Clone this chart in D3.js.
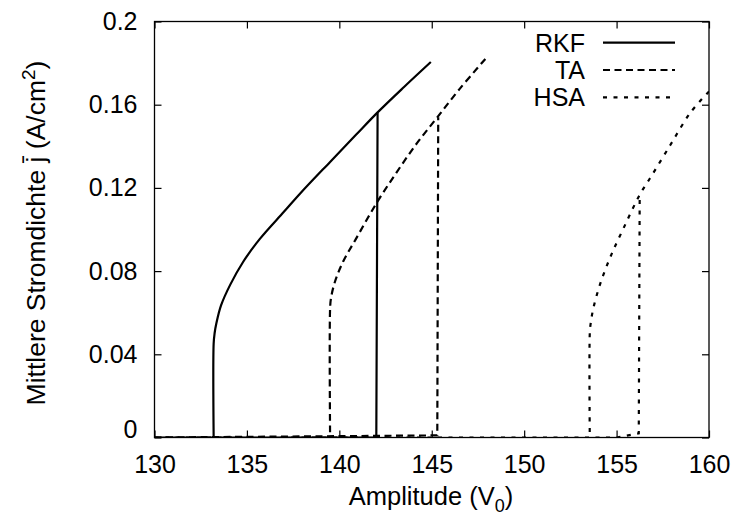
<!DOCTYPE html>
<html>
<head>
<meta charset="utf-8">
<script src="https://cdn.jsdelivr.net/npm/d3@7"></script>
<style>
  body { margin: 0; background: #fff; }
  svg text { font-family: "Liberation Sans", Arial, sans-serif; fill: #000; }
</style>
</head>
<body>
<div id="chart"></div>
<script>
const xTicks = [130, 135, 140, 145, 150, 155, 160];
const yTicks = [0, 0.04, 0.08, 0.12, 0.16, 0.2];
const yTickLabels = ["0", "0.04", "0.08", "0.12", "0.16", "0.2"];
const seriesNames = ["RKF", "TA", "HSA"];

// increasing amplitude: zero branch, then jump up onto the upper branch
const rkfUpX = [130, 142.0, 142.07];
const rkfUpY = [0, 0, 0.1563];
// upper branch, followed back down to the drop
const rkfDownX = [144.95, 143.5, 142.07, 140.9, 139.5, 137.87, 137.0, 135.7, 134.8, 134.1, 133.6, 133.35, 133.25, 133.2, 133.2];
const rkfDownY = [0.1805, 0.1685, 0.1563, 0.1455, 0.1325, 0.1172, 0.1085, 0.0955, 0.0845, 0.0735, 0.0635, 0.055, 0.05, 0.045, 0];

const taUpX = [130, 145.3, 145.35];
const taUpY = [0, 0.001, 0.154];
const taDownX = [147.9, 146.5, 145.35, 144.2, 143.1, 142.0, 140.9, 140.2, 139.75, 139.55, 139.5, 139.5];
const taDownY = [0.182, 0.1675, 0.1545, 0.1415, 0.1275, 0.1125, 0.0955, 0.0845, 0.0745, 0.067, 0.062, 0];

const hsaUpX = [130, 155.0, 156.2, 156.25];
const hsaUpY = [0, 0, 0.002, 0.116];
const hsaDownX = [160, 158.98, 157.9, 156.8, 156.27, 155.37, 154.65, 154.1, 153.74, 153.6, 153.55, 153.55];
const hsaDownY = [0.1664, 0.156, 0.1405, 0.1245, 0.117, 0.1005, 0.0865, 0.0735, 0.062, 0.055, 0.05, 0];

const width = 738, height = 518;
const plotLeft = 154.5, plotRight = 709, plotTop = 21.5, plotBottom = 437.5;

const svg = d3.select("#chart").append("svg")
    .attr("width", width)
    .attr("height", height);

const x = d3.scaleLinear().domain([130, 160]).range([plotLeft, plotRight]);
const y = d3.scaleLinear().domain([0, 0.2]).range([plotBottom, plotTop]);

svg.append("clipPath").attr("id", "plot")
    .append("rect")
    .attr("x", plotLeft).attr("y", plotTop)
    .attr("width", plotRight - plotLeft).attr("height", plotBottom - plotTop);

// axes with inward ticks on all four sides
const tickLen = 7;
svg.append("g")
    .attr("transform", `translate(0,${plotBottom})`)
    .call(d3.axisBottom(x).tickValues(xTicks).tickSize(-tickLen).tickFormat(d3.format("d")))
    .call(g => g.select(".domain").remove())
    .call(g => g.selectAll("text").attr("font-size", 25).attr("dy", "0.71em").attr("y", 17.5));

svg.append("g")
    .attr("transform", `translate(0,${plotTop})`)
    .call(d3.axisTop(x).tickValues(xTicks).tickSize(-tickLen).tickFormat(""))
    .call(g => g.select(".domain").remove());

svg.append("g")
    .attr("transform", `translate(${plotLeft},0)`)
    .call(d3.axisLeft(y).tickValues(yTicks).tickSize(-tickLen)
        .tickFormat((d, i) => yTickLabels[i]))
    .call(g => g.select(".domain").remove())
    .call(g => g.selectAll("text").attr("font-size", 25).attr("x", -17))
    .call(g => g.selectAll(".tick").filter(d => d === 0).select("text").attr("dy", "0.0em"));

svg.append("g")
    .attr("transform", `translate(${plotRight},0)`)
    .call(d3.axisRight(y).tickValues(yTicks).tickSize(-tickLen).tickFormat(""))
    .call(g => g.select(".domain").remove());

svg.selectAll(".tick line").attr("stroke", "#000").attr("stroke-width", 1.2);

svg.append("rect")
    .attr("x", plotLeft).attr("y", plotTop)
    .attr("width", plotRight - plotLeft).attr("height", plotBottom - plotTop)
    .attr("fill", "none")
    .attr("stroke", "#000")
    .attr("stroke-width", 1.3);

// axis labels
const xl = svg.append("text")
    .attr("x", 431).attr("y", 505)
    .attr("text-anchor", "middle")
    .attr("font-size", 25.5);
xl.append("tspan").text("Amplitude (V");
xl.append("tspan").attr("font-size", 18).attr("dy", 7).text("0");
xl.append("tspan").attr("dy", -7).text(")");

const yl = svg.append("text")
    .attr("transform", "translate(45,233) rotate(-90)")
    .attr("text-anchor", "middle")
    .attr("font-size", 26.5);
yl.append("tspan").text("Mittlere Stromdichte j\u0304 (A/cm");
yl.append("tspan").attr("font-size", 19).attr("dy", -10).text("2");
yl.append("tspan").attr("dy", 10).text(")");

// curves
const series = [
    { name: "RKF", parts: [[rkfUpX, rkfUpY], [rkfDownX, rkfDownY]], dash: null },
    { name: "TA", parts: [[taUpX, taUpY], [taDownX, taDownY]], dash: "7,4.5" },
    { name: "HSA", parts: [[hsaUpX, hsaUpY], [hsaDownX, hsaDownY]], dash: "4,6.5" }
];

const line = d3.line().x(d => x(d[0])).y(d => y(d[1]));
const smooth = d3.line().x(d => x(d[0])).y(d => y(d[1])).curve(d3.curveCatmullRom.alpha(0.5));
const plot = svg.append("g").attr("clip-path", "url(#plot)");

series.forEach(s => {
    s.parts.forEach((p, k) => {
        plot.append("path")
            .datum(d3.zip(p[0], p[1]))
            .attr("d", k === 0 ? line : smooth)
            .attr("fill", "none")
            .attr("stroke", "#000")
            .attr("stroke-width", 2.2)
            .attr("stroke-dasharray", s.dash);
    });
});

// legend
const legend = svg.append("g");
series.forEach((s, i) => {
    const ly = 42.7 + i * 27.3;
    legend.append("text")
        .attr("x", 585).attr("y", ly + 9)
        .attr("text-anchor", "end")
        .attr("font-size", 25)
        .text(seriesNames[i]);
    legend.append("line")
        .attr("x1", 603).attr("x2", 675)
        .attr("y1", ly).attr("y2", ly)
        .attr("stroke", "#000")
        .attr("stroke-width", 2.2)
        .attr("stroke-dasharray", s.dash);
});
</script>
</body>
</html>
